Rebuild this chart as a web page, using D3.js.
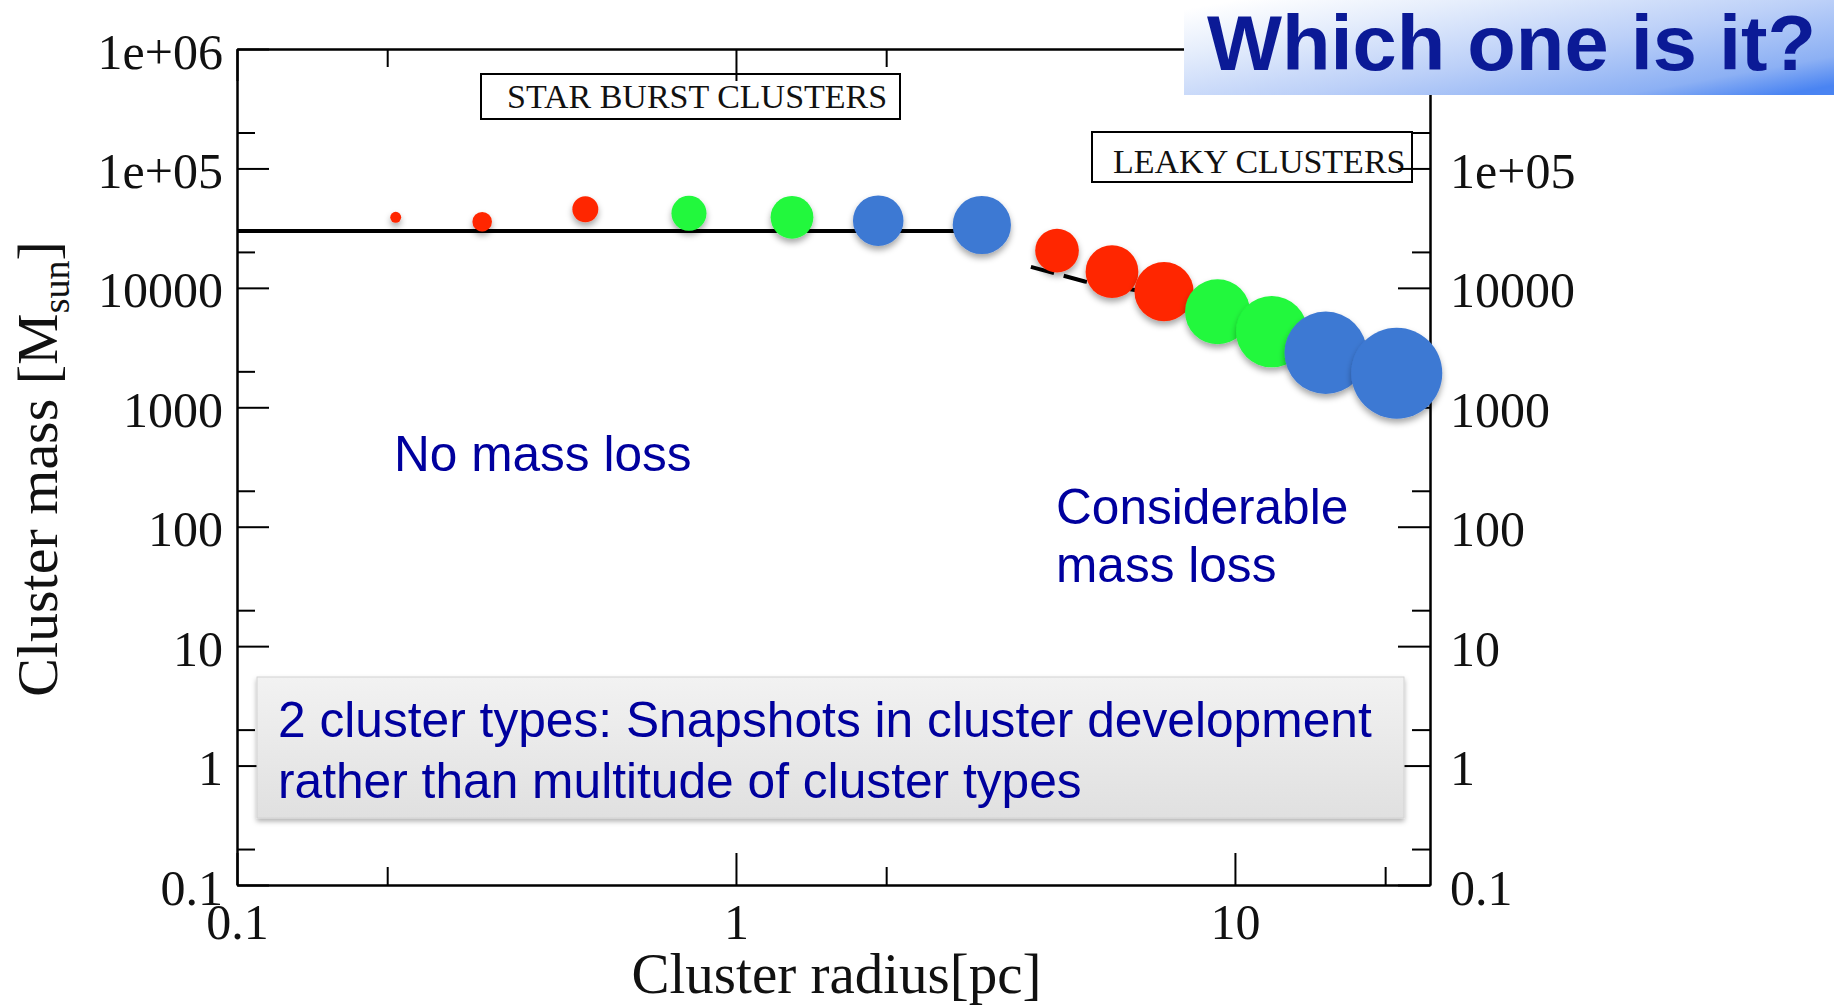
<!DOCTYPE html>
<html>
<head>
<meta charset="utf-8">
<script src="https://cdn.jsdelivr.net/npm/d3@7"></script>
<style>
  html, body { margin: 0; padding: 0; background: #ffffff; }
  svg { display: block; }
</style>
</head>
<body>
<svg id="chart" width="1834" height="1006"></svg>
<script>
// ---------------- data ----------------
const clusterRadius = [0.208, 0.310, 0.499, 0.805, 1.295, 1.928, 3.11, 4.40, 5.67, 7.21, 9.23, 11.85, 15.2, 21.1];
const clusterMass   = [39000, 35800, 45500, 42100, 39000, 36500, 33600, 20500, 13650, 9290, 6310, 4300, 2860, 1930];
const snapshotWeight = [0.12, 0.215, 0.285, 0.385, 0.47, 0.555, 0.64, 0.48, 0.58, 0.65, 0.715, 0.785, 0.905, 1.0];
const snapshotGroup = ["early", "early", "early", "mid", "mid", "late", "late", "early", "early", "early", "mid", "mid", "late", "late"];

const noLossRadius = [0.1, 3.1];
const noLossMass   = [30000, 30000];
const lossRadius = [3.9, 5.0, 6.3, 9.0, 13, 18, 22];
const lossMass   = [15000, 11300, 9600, 6800, 4800, 3500, 2900];

const xMajorTicks = [0.1, 1, 10];
const xTickLabels = ["0.1", "1", "10"];
const xMinorTicks = [0.2, 2, 20];
const yMajorTicks = [0.1, 1, 10, 100, 1000, 10000, 100000, 1000000];
const yTickLabels = ["0.1", "1", "10", "100", "1000", "10000", "1e+05", "1e+06"];
const yRightTickLabels = ["0.1", "1", "10", "100", "1000", "10000", "1e+05", ""];
const yMinorTicks = [0.2, 2, 20, 200, 2000, 20000, 200000];

// ---------------- layout ----------------
const L = 237, R = 1430, T = 49, B = 885;
const svg = d3.select("#chart");
const serif = "'Liberation Serif', 'Times New Roman', serif";
const sans = "'Liberation Sans', Arial, Helvetica, sans-serif";

const x = d3.scaleLog().domain([0.1, 24.6]).range([L, R]);
const y = d3.scaleLog().domain([0.1, 1e6]).range([B, T]);
const r = d3.scaleLinear().domain([0, 1]).range([0, 45.5]);
const color = d3.scaleOrdinal().domain(["early", "mid", "late"]).range(["#ff2800", "#20f83c", "#3e79d3"]);

const defs = svg.append("defs");
const sh = defs.append("filter").attr("id", "dotShadow").attr("x", "-50%").attr("y", "-50%").attr("width", "200%").attr("height", "200%");
sh.append("feDropShadow").attr("dx", 0).attr("dy", 4).attr("stdDeviation", 3).attr("flood-color", "#000").attr("flood-opacity", 0.35);
const bsh = defs.append("filter").attr("id", "boxShadow").attr("x", "-5%").attr("y", "-20%").attr("width", "110%").attr("height", "140%");
bsh.append("feDropShadow").attr("dx", 0).attr("dy", 3).attr("stdDeviation", 2.5).attr("flood-color", "#000").attr("flood-opacity", 0.3);
const boxGrad = defs.append("linearGradient").attr("id", "boxGrad").attr("x1", 0).attr("y1", 0).attr("x2", 0).attr("y2", 1);
boxGrad.append("stop").attr("offset", 0).attr("stop-color", "#f2f2f2");
boxGrad.append("stop").attr("offset", 1).attr("stop-color", "#e0e0e0");
const banGrad = defs.append("linearGradient").attr("id", "banGrad").attr("x1", 0).attr("y1", 0.1).attr("x2", 1).attr("y2", 0.9);
banGrad.append("stop").attr("offset", 0).attr("stop-color", "#ffffff");
banGrad.append("stop").attr("offset", 0.22).attr("stop-color", "#e6eefc");
banGrad.append("stop").attr("offset", 0.55).attr("stop-color", "#bcd0f8");
banGrad.append("stop").attr("offset", 0.85).attr("stop-color", "#8cb0f4");
banGrad.append("stop").attr("offset", 1).attr("stop-color", "#4a84f2");

// ---------------- annotation boxes (behind axes) ----------------
svg.append("rect").attr("x", 481).attr("y", 74).attr("width", 419).attr("height", 45)
  .attr("fill", "none").attr("stroke", "#000").attr("stroke-width", 2);
svg.append("text").attr("x", 507).attr("y", 108).attr("font-family", serif).attr("font-size", 34)
  .attr("fill", "#111").text("STAR BURST CLUSTERS");
svg.append("rect").attr("x", 1092).attr("y", 132).attr("width", 320).attr("height", 50)
  .attr("fill", "none").attr("stroke", "#000").attr("stroke-width", 2);
svg.append("text").attr("x", 1113).attr("y", 173).attr("font-family", serif).attr("font-size", 34)
  .attr("fill", "#111").text("LEAKY CLUSTERS");

// ---------------- axes ----------------
function styleAxis(g) {
  g.selectAll("path.domain").attr("stroke", "#000").attr("stroke-width", 2);
  g.selectAll(".tick line").attr("stroke", "#000").attr("stroke-width", 2);
  g.selectAll(".tick text").attr("font-family", serif).attr("font-size", 50).attr("fill", "#111");
}
const axLeft = svg.append("g").attr("transform", `translate(${L},0)`)
  .call(d3.axisLeft(y).tickValues(yMajorTicks).tickFormat((d, i) => yTickLabels[i]).tickSize(-32).tickSizeOuter(0).tickPadding(14));
styleAxis(axLeft);
axLeft.selectAll(".tick text").attr("dy", "0.38em");
const axLeftMinor = svg.append("g").attr("transform", `translate(${L},0)`)
  .call(d3.axisLeft(y).tickValues(yMinorTicks).tickFormat("").tickSize(-18).tickSizeOuter(0));
styleAxis(axLeftMinor);

const axRight = svg.append("g").attr("transform", `translate(${R},0)`)
  .call(d3.axisRight(y).tickValues(yMajorTicks).tickFormat((d, i) => yRightTickLabels[i]).tickSize(-32).tickSizeOuter(0).tickPadding(20));
styleAxis(axRight);
axRight.selectAll(".tick text").attr("dy", "0.38em");
const axRightMinor = svg.append("g").attr("transform", `translate(${R},0)`)
  .call(d3.axisRight(y).tickValues(yMinorTicks).tickFormat("").tickSize(-18).tickSizeOuter(0));
styleAxis(axRightMinor);

const axBottom = svg.append("g").attr("transform", `translate(0,${B})`)
  .call(d3.axisBottom(x).tickValues(xMajorTicks).tickFormat((d, i) => xTickLabels[i]).tickSize(-32).tickSizeOuter(0).tickPadding(18));
styleAxis(axBottom);
const axBottomMinor = svg.append("g").attr("transform", `translate(0,${B})`)
  .call(d3.axisBottom(x).tickValues(xMinorTicks).tickFormat("").tickSize(-18).tickSizeOuter(0));
styleAxis(axBottomMinor);

const axTop = svg.append("g").attr("transform", `translate(0,${T})`)
  .call(d3.axisTop(x).tickValues(xMajorTicks).tickFormat("").tickSize(-32).tickSizeOuter(0));
styleAxis(axTop);
const axTopMinor = svg.append("g").attr("transform", `translate(0,${T})`)
  .call(d3.axisTop(x).tickValues(xMinorTicks).tickFormat("").tickSize(-18).tickSizeOuter(0));
styleAxis(axTopMinor);

// axis titles
svg.append("text").attr("x", (L + R) / 2 + 3).attr("y", 993).attr("text-anchor", "middle")
  .attr("font-family", serif).attr("font-size", 57).attr("fill", "#111").text("Cluster radius[pc]");
const yTitle = svg.append("text").attr("transform", `translate(57,${(T + B) / 2 + 2}) rotate(-90)`)
  .attr("text-anchor", "middle").attr("font-family", serif).attr("font-size", 58).attr("fill", "#111");
yTitle.append("tspan").text("Cluster mass [M");
yTitle.append("tspan").attr("font-size", 38).attr("dy", 12).text("sun");
yTitle.append("tspan").attr("dy", -12).text("]");

// ---------------- lines ----------------
const line = d3.line().x(d => x(d[0])).y(d => y(d[1]));
svg.append("path").datum(noLossRadius.map((v, i) => [v, noLossMass[i]]))
  .attr("d", line).attr("fill", "none").attr("stroke", "#000").attr("stroke-width", 4);
svg.append("path").datum(lossRadius.map((v, i) => [v, lossMass[i]]))
  .attr("d", line).attr("fill", "none").attr("stroke", "#000").attr("stroke-width", 4)
  .attr("stroke-dasharray", "24,10");

// ---------------- points ----------------
svg.append("g").selectAll("circle")
  .data(clusterRadius.map((v, i) => ({ r: v, m: clusterMass[i], w: snapshotWeight[i], g: snapshotGroup[i] })))
  .join("circle")
  .attr("cx", d => x(d.r)).attr("cy", d => y(d.m)).attr("r", d => r(d.w))
  .attr("fill", d => color(d.g)).attr("filter", "url(#dotShadow)");

// ---------------- text annotations ----------------
const blue = "#00009e";
svg.append("text").attr("x", 394).attr("y", 471).attr("font-family", sans).attr("font-size", 49.6)
  .attr("fill", blue).text("No mass loss");
svg.append("text").attr("x", 1056).attr("y", 524).attr("font-family", sans).attr("font-size", 49.6)
  .attr("fill", blue).text("Considerable");
svg.append("text").attr("x", 1056).attr("y", 582).attr("font-family", sans).attr("font-size", 49.6)
  .attr("fill", blue).text("mass loss");

// callout box
svg.append("rect").attr("x", 257).attr("y", 677).attr("width", 1147).attr("height", 141)
  .attr("fill", "url(#boxGrad)").attr("stroke", "#d2d2d2").attr("stroke-width", 1).attr("filter", "url(#boxShadow)");
svg.append("text").attr("x", 278).attr("y", 737).attr("font-family", sans).attr("font-size", 49.7)
  .attr("fill", blue).text("2 cluster types: Snapshots in cluster development");
svg.append("text").attr("x", 278).attr("y", 798).attr("font-family", sans).attr("font-size", 49.7)
  .attr("fill", blue).text("rather than multitude of cluster types");

// title banner
svg.append("rect").attr("x", 1184).attr("y", 0).attr("width", 650).attr("height", 95).attr("fill", "url(#banGrad)");
svg.append("text").attr("x", 1207).attr("y", 70).attr("font-family", sans).attr("font-weight", "bold")
  .attr("font-size", 78).attr("textLength", 609).attr("lengthAdjust", "spacingAndGlyphs")
  .attr("fill", "#0b1a96").text("Which one is it?");
</script>
</body>
</html>
